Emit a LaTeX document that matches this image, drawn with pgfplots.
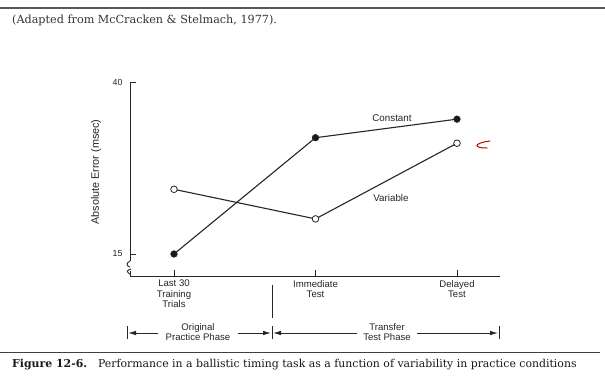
\documentclass[border=0pt]{standalone}
\usepackage{pgfplots}
\pgfplotsset{compat=1.18}
\usepackage{fontspec}
\setsansfont{Liberation Sans}
\newfontfamily\capfont{DejaVu Serif}
\usetikzlibrary{arrows.meta}
\begin{document}
\begin{tikzpicture}[x=1pt,y=1pt]
\path[use as bounding box] (0,0) rectangle (605,376);
\fill[white] (0,0) rectangle (605,376);
% header
\draw[line width=1.3pt, black!65] (0,368) -- (605,368);
\node[anchor=west, inner sep=0pt, font=\capfont\fontsize{11.2}{13}\selectfont, black!80] at (12,356) {(Adapted from McCracken \& Stelmach, 1977).};
\begin{axis}[
  at={(130pt,100pt)}, anchor=south west,
  scale only axis, width=370pt, height=194pt,
  xmin=-0.311, xmax=2.304, ymin=11.8, ymax=40,
  axis lines=left,
  axis line style={-, line width=0.9pt, black!85},
  tick align=inside, major tick length=6pt,
  tick style={line width=0.9pt, black!85},
  xtick={0,1,2},
  xticklabels={{Last 30\\Training\\Trials},{Immediate\\Test},{Delayed\\Test}},
  xticklabel style={align=center, font=\sffamily\fontsize{9.6}{10.5}\selectfont, inner sep=0pt, yshift=-4pt, black!85},
  ytick={15,40},
  yticklabel style={font=\sffamily\fontsize{8.8}{10}\selectfont, black!85, xshift=-4pt},
  /pgf/number format/assume math mode=true,
  clip=false,
]
\addplot[black!85, line width=1.1pt, mark=*, mark size=3.3pt, mark options={fill=black!90, line width=0.6pt}]
  coordinates {(0,15) (1,31.9) (2,34.6)};
\addplot[black!85, line width=1.1pt, mark=*, mark size=3.3pt, mark options={fill=white, line width=0.8pt}]
  coordinates {(0,24.4) (1,20.1) (2,31.1)};
\end{axis}
% series labels
\node[font=\sffamily\fontsize{9.8}{10}\selectfont, black!85] at (392,258) {Constant};
\node[font=\sffamily\fontsize{9.8}{10}\selectfont, black!85] at (391,178) {Variable};
% y label
\node[rotate=90, font=\sffamily\fontsize{10.8}{12}\selectfont, black!85] at (96,204) {Absolute Error (msec)};
% axis break
\fill[white] (127,105) rectangle (133,115);
\draw[line width=0.9pt, black!85] (130,115) .. controls (126,113) and (126,110) .. (130,109);
\draw[line width=0.9pt, black!85] (131,107) .. controls (127,106) and (126,104) .. (130,102);
% divider
\draw[line width=0.9pt, black!85] (272,91) -- (272,58);
% phase arrows
\begin{scope}[line width=0.9pt, black!85]
\draw (127,37) -- (127,50);
\draw (272,37) -- (272,50);
\draw (499,37) -- (499,50);
\draw[-{Latex[length=8pt,width=4.5pt]}] (158,43) -- (128,43);
\draw[-{Latex[length=8pt,width=4.5pt]}] (238,43) -- (271,43);
\draw[-{Latex[length=8pt,width=4.5pt]}] (357,43) -- (273,43);
\draw[-{Latex[length=8pt,width=4.5pt]}] (417,43) -- (498,43);
\end{scope}
\node[align=center, font=\sffamily\fontsize{9.6}{10.5}\selectfont, black!85] at (198,44) {Original\\Practice Phase};
\node[align=center, font=\sffamily\fontsize{9.6}{10.5}\selectfont, black!85] at (387,44) {Transfer\\Test Phase};
% red mark
\draw[red!75!black, line width=1pt, line cap=round] (490,235) .. controls (482,234) and (476,232) .. (477,230) .. controls (479,228) and (484,228) .. (487,228);
% caption
\draw[line width=1pt, black!75] (0,24) -- (600,24);
\node[anchor=west, inner sep=0pt, font=\capfont\fontsize{10.9}{12}\selectfont, black!90] at (12,11) {\textbf{Figure 12-6.}\quad Performance in a ballistic timing task as a function of variability in practice conditions};
\end{tikzpicture}
\end{document}
